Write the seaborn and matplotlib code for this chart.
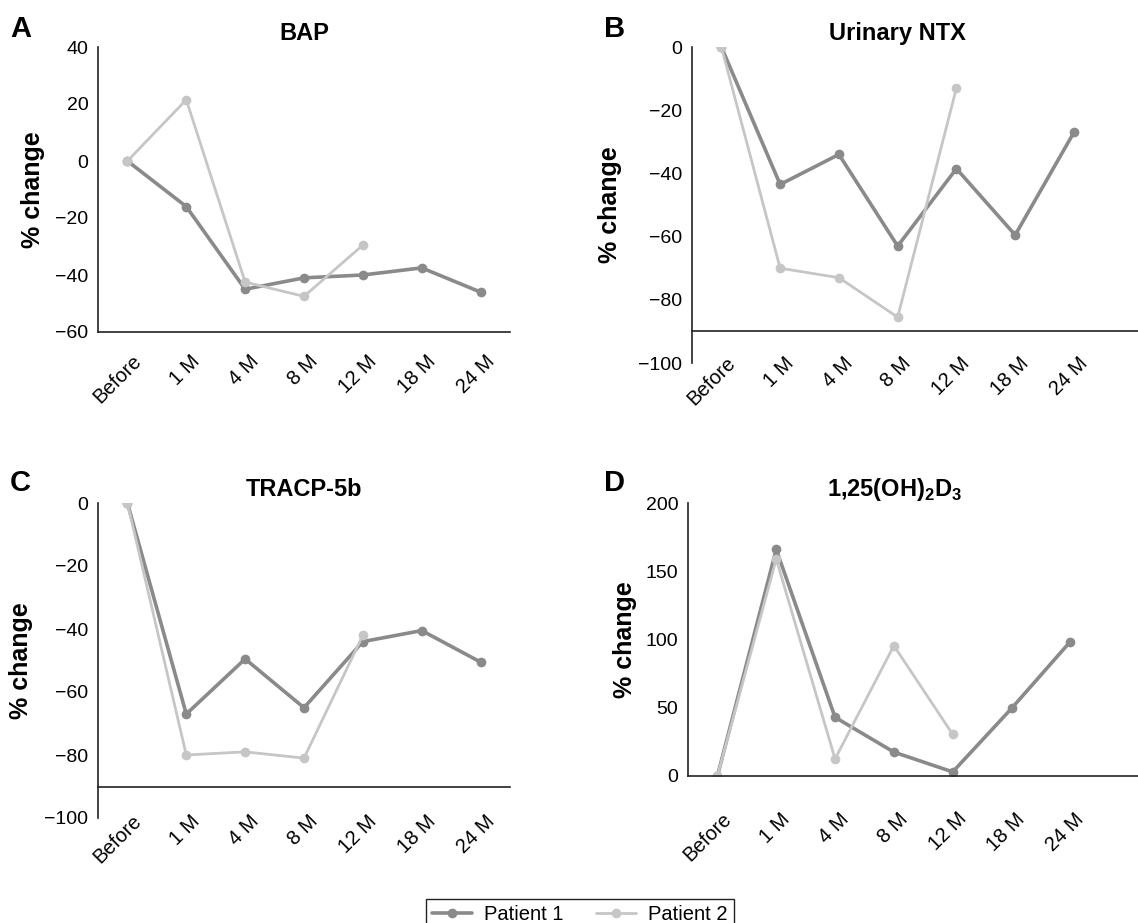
import pandas as pd
import matplotlib.pyplot as plt
import matplotlib.transforms as mtransforms
import seaborn as sns

# time points on the x axis
timepoints = ["Before", "1 M", "4 M", "8 M", "12 M", "18 M", "24 M"]
patients = ["Patient 1", "Patient 2"]

# % change values (patient 2 stops at 12 M)
bap_p1 = [0, -16, -45, -41, -40, -37.5, -46]
bap_p2 = [0, 21.5, -42.5, -47.5, -29.5]
ntx_p1 = [0, -43.5, -34, -63, -38.5, -59.5, -27]
ntx_p2 = [0, -70, -73, -85.5, -13]
tracp_p1 = [0, -67, -49.5, -65, -44, -40.5, -50.5]
tracp_p2 = [0, -80, -79, -81, -42]
vitd_p1 = [0, 166, 43, 17.5, 3, 49.5, 98.5]
vitd_p2 = [0, 159, 12.5, 95.5, 30.5]

colors = {"Patient 1": "#8a8a8a", "Patient 2": "#c6c6c6"}
widths = {"Patient 1": 2.6, "Patient 2": 2.0}


def make_df(p1, p2):
    rows = []
    for name, vals in zip(patients, [p1, p2]):
        for i, v in enumerate(vals):
            rows.append({"t": i, "change": v, "patient": name})
    return pd.DataFrame(rows)


panels = [
    # letter, title, data, yticks, axis line, rect, xmax, title x, ylabel x, xlabel pad
    ("A", "BAP", make_df(bap_p1, bap_p2), [-60, -40, -20, 0, 20, 40], -60,
     [98, 47, 510, 332], 6.5, 0.5, -0.128, 14),
    ("B", "Urinary NTX", make_df(ntx_p1, ntx_p2), [-100, -80, -60, -40, -20, 0], -90,
     [692, 47, 1138, 363], 7.09, 0.46, -0.157, 16),
    ("C", "TRACP-5b", make_df(tracp_p1, tracp_p2), [-100, -80, -60, -40, -20, 0], -90,
     [98, 503, 510, 818], 6.5, 0.5, -0.158, 18),
    ("D", r"1,25(OH)$_\mathbf{2}$D$_\mathbf{3}$", make_df(vitd_p1, vitd_p2), [0, 50, 100, 150, 200], 0,
     [688, 503, 1138, 776], 7.15, 0.46, -0.114, 24),
]

sns.set_style("white")
plt.rcParams["font.family"] = ["Liberation Sans", "DejaVu Sans"]
plt.rcParams["mathtext.fontset"] = "custom"
plt.rcParams["mathtext.rm"] = "Liberation Sans"
plt.rcParams["mathtext.bf"] = "Liberation Sans:bold"
for k in ["text.color", "axes.labelcolor", "xtick.color", "ytick.color"]:
    plt.rcParams[k] = "black"

W, H = 1138, 923
fig = plt.figure(figsize=(W / 100, H / 100), dpi=100)
shift = mtransforms.ScaledTranslation(0.04, 0, fig.dpi_scale_trans)

for letter, title, df, yticks, base, (x0, y0, x1, y1), xmax, tx, lx, xpad in panels:
    ax = fig.add_axes([x0 / W, 1 - y1 / H, (x1 - x0) / W, (y1 - y0) / H])
    sns.lineplot(data=df, x="t", y="change", hue="patient", size="patient",
                 palette=colors, sizes=widths, marker="o", markersize=7,
                 markeredgewidth=0, legend=False, ax=ax)
    # spines first: moving the bottom spine resets the tick objects
    for s in ["top", "right"]:
        ax.spines[s].set_visible(False)
    for s in ["left", "bottom"]:
        ax.spines[s].set_color("#222222")
        ax.spines[s].set_linewidth(1.2)
    ax.spines["bottom"].set_position(("data", base))
    ax.set_xlim(-0.5, xmax)
    ax.set_ylim(yticks[0], yticks[-1])
    ax.set_yticks(yticks)
    ax.tick_params(axis="x", length=0, pad=xpad)
    ax.tick_params(axis="y", length=0, pad=7, labelsize=14)
    ax.set_xticks(range(len(timepoints)))
    ax.set_xticklabels(timepoints, rotation=45, ha="right", va="top",
                       rotation_mode="anchor", fontsize=14.5)
    for lbl in ax.get_xticklabels():
        lbl.set_transform(lbl.get_transform() + shift)
    ax.set_xlabel("")
    ax.set_ylabel("% change", fontsize=18, fontweight="bold")
    ax.yaxis.set_label_coords(lx, 0.5)
    ax.set_title(title, fontsize=17, fontweight="bold", x=tx, pad=5)
    fig.text((10 if letter in "AC" else 604) / W, 1 - (29 if letter in "AB" else 483) / H,
             letter, fontsize=21, fontweight="bold", ha="left", va="center")
    if letter == "A":
        handles = ax.lines[:2]

fig.legend(handles, patients, loc="upper center", bbox_to_anchor=(580 / W, 1 - 889 / H),
           ncol=2, fontsize=14.5, frameon=True, fancybox=False, edgecolor="#222222",
           handlelength=2.0, handletextpad=0.6, columnspacing=1.6, borderpad=0.3,
           framealpha=1)

fig.savefig("out.png", dpi=100)
